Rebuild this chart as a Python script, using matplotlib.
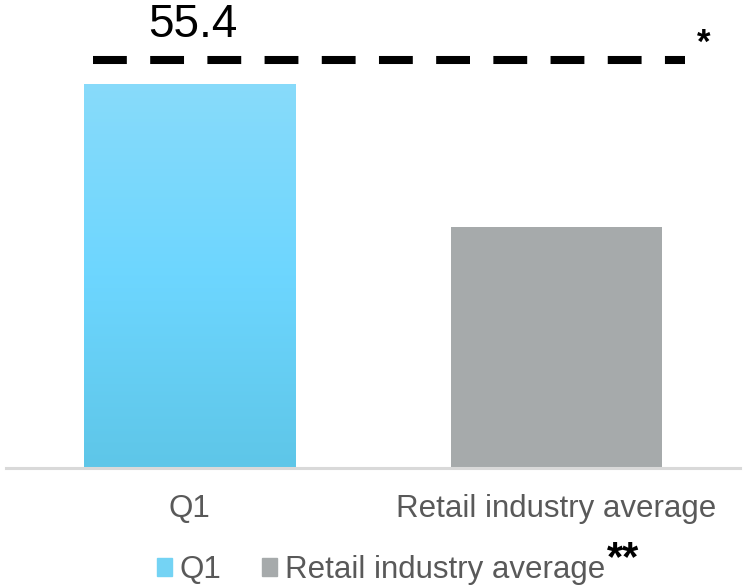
import numpy as np
import matplotlib
matplotlib.use("Agg")
import matplotlib.pyplot as plt
from matplotlib.colors import LinearSegmentedColormap
from matplotlib.patches import Patch

plt.rcParams["font.family"] = ["Liberation Sans", "DejaVu Sans"]

# data
categories = ["Q1", "Retail industry average"]
values = [55.4, 34.8]
benchmark = 58.9
label_text = "55.4"

blue_grad = LinearSegmentedColormap.from_list(
    "q1", ["#5EC6E8", "#6DD6FF", "#88DBFA"])
gray = "#A6AAAB"
text_gray = "#595959"

fig = plt.figure(figsize=(7.43, 5.87), dpi=100)
ax = fig.add_axes([0.008, 0.2027, 0.988, 0.7973])

x = np.arange(len(categories))
bars = ax.bar(x, values, width=0.575, color=["none", gray], zorder=2)

# vertical gradient inside the Q1 bar
b = bars[0]
grad = np.linspace(0, 1, 256).reshape(-1, 1)
im = ax.imshow(grad, cmap=blue_grad, origin="lower", aspect="auto",
               extent=[b.get_x(), b.get_x() + b.get_width(), 0, b.get_height()],
               zorder=2)
im.set_clip_path(b)

ax.set_xlim(-0.5, 1.5)
ax.set_ylim(0, 67.5)

# dashed benchmark line
ax.plot([-0.263, 1.351], [benchmark, benchmark], color="black", lw=5.8,
        linestyle=(0, (4.2, 2.9)), solid_capstyle="butt", dash_capstyle="butt",
        zorder=3)
ax.text(0.008, benchmark + 1.85, label_text, ha="center", va="bottom",
        fontsize=33, color="black", clip_on=False)
ax.text(1.40, benchmark - 0.1, "*", ha="center", va="bottom",
        fontsize=25, fontweight="bold", color="black")

for side in ["top", "right", "left"]:
    ax.spines[side].set_visible(False)
ax.spines["bottom"].set_color("#D9D9D9")
ax.spines["bottom"].set_linewidth(2.2)
ax.set_yticks([])
ax.set_xticks(x)
ax.set_xticklabels(categories, fontsize=22.5, color=text_gray)
ax.tick_params(axis="x", length=0, pad=19)

handles = [Patch(color="#74D3F4"), Patch(color=gray)]
leg = fig.legend(handles, categories, loc="center",
                 bbox_to_anchor=(381 / 743, 1 - 570 / 587), ncol=2,
                 frameon=False, fontsize=22.5, handlelength=0.48,
                 handleheight=0.48, handletextpad=0.25, columnspacing=1.3,
                 labelcolor=text_gray, borderpad=0.2)

fig.canvas.draw()
bb = leg.get_window_extent().transformed(fig.transFigure.inverted())
fig.text(bb.x1 - 0.006, 1 - 559 / 587, "**", ha="left", va="center",
         fontsize=30, fontweight="bold", color="black")

fig.savefig("out.png", dpi=100)
